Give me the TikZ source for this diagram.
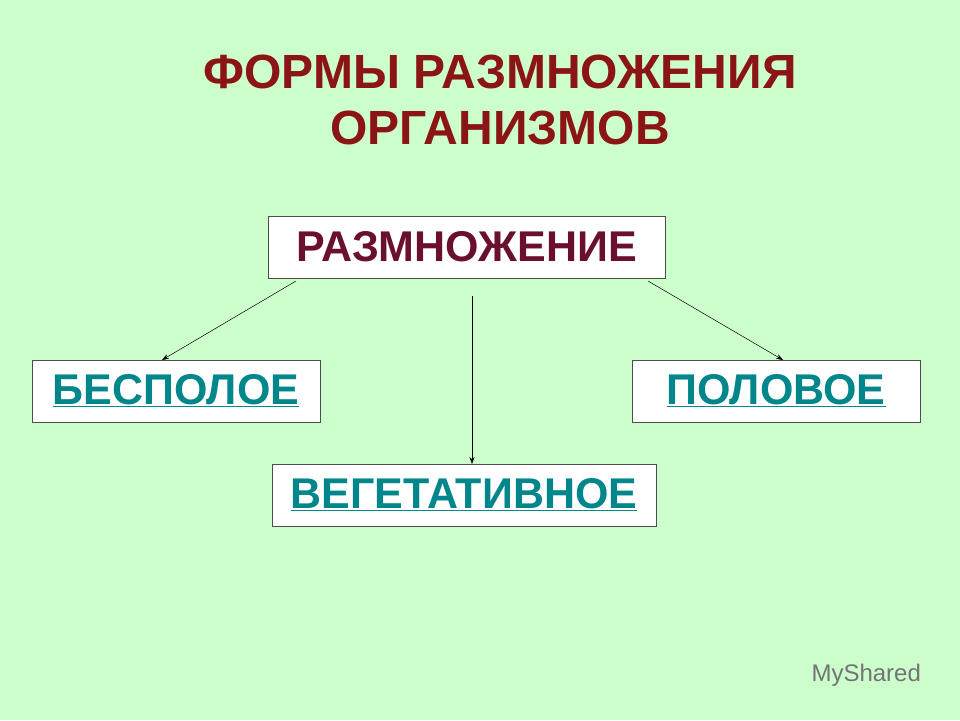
\documentclass[tikz,border=0pt]{standalone}
\usepackage{fontspec}
\setmainfont{Liberation Sans}
\usetikzlibrary{arrows.meta}
\definecolor{bg}{HTML}{CCFFCC}
\definecolor{titlered}{HTML}{8B1414}
\definecolor{maroon}{HTML}{6A0F2E}
\definecolor{teal2}{HTML}{00868B}
\tikzset{
  box/.style={draw=black!70, line width=0.6pt, fill=white, minimum height=62pt, inner sep=0pt},
  lnk/.style={font=\fontsize{43}{45}\selectfont\bfseries, text=teal2},
  conn/.style={-{Stealth[length=7pt,width=5pt]}, line width=0.5pt}
}
\newcommand{\ul}[1]{\underline{#1}}
\begin{document}
\begin{tikzpicture}[x=1pt,y=-1pt]
\fill[bg] (0,0) rectangle (960,720);
\useasboundingbox (0,0) rectangle (960,720);
\node[text=titlered, font=\fontsize{48}{56}\selectfont\bfseries, align=center] (title) at (500,100) {ФОРМЫ РАЗМНОЖЕНИЯ\\ОРГАНИЗМОВ};
\node[box, minimum width=397pt, font=\fontsize{43}{45}\selectfont\bfseries, text=maroon] (r) at (466.5,247) {РАЗМНОЖЕНИЕ};
\node[box, minimum width=288pt, lnk] (b) at (176,391) {\ul{БЕСПОЛОЕ}};
\node[box, minimum width=288pt, lnk] (p) at (776,391) {\ul{ПОЛОВОЕ}};
\node[box, minimum width=384pt, lnk] (v) at (464,495) {\ul{ВЕГЕТАТИВНОЕ}};
\coordinate (s1) at (296,281);
\coordinate (s2) at (472,296);
\coordinate (s3) at (648,281);
\coordinate (e1) at (162,360);
\coordinate (e2) at (472,464);
\coordinate (e3) at (783,360);
\draw[conn] (s1) -- (e1);
\draw[conn] (s2) -- (e2);
\draw[conn] (s3) -- (e3);
\node[text=black!55, font=\fontsize{24}{26}\selectfont, anchor=west] (wm) at (808,675) {MyShared};
\end{tikzpicture}
\end{document}
